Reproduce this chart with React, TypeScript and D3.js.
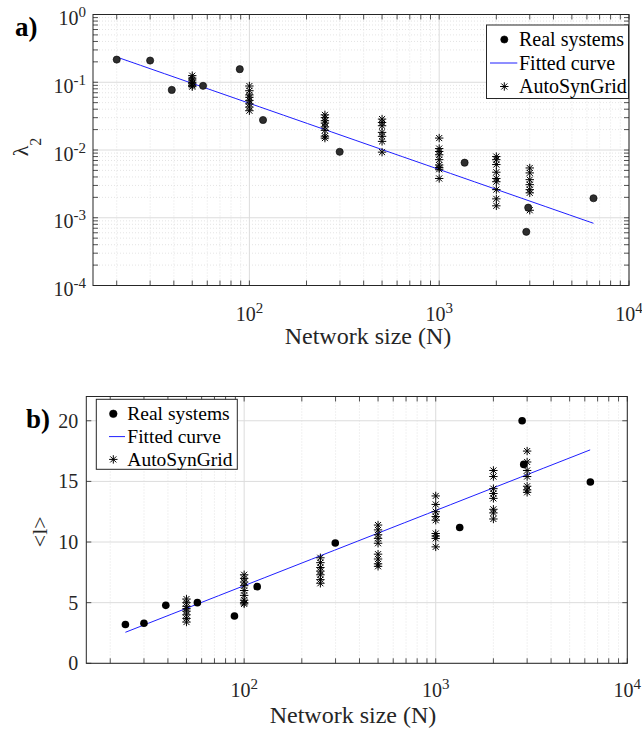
import React from 'react';
import * as d3 from 'd3';

// ---------- data ----------
// Real power systems: network size N, algebraic connectivity and mean path length
const realSizesA = [20, 30, 39, 57, 89, 118, 299, 1361, 2945, 2877, 6500];
const realLambda2 = [0.216, 0.209, 0.077, 0.0885, 0.156, 0.0277, 0.0094, 0.0065, 0.00141, 0.00062, 0.00194];

const realSizesB = [24, 30, 39, 57, 89, 117, 299, 1334, 2825, 2880, 6415];
const realPathLength = [3.2, 3.3, 4.78, 5.0, 3.9, 6.32, 9.92, 11.2, 20.0, 16.4, 14.95];

// Synthetic grids generated by AutoSynGrid, grouped by network size
const synSizes = [50, 100, 250, 500, 1000, 2000, 3000];
const synLambda2 = [
  [0.125, 0.115, 0.108, 0.1, 0.095, 0.09, 0.086],
  [0.088, 0.075, 0.065, 0.06, 0.054, 0.048, 0.043, 0.038],
  [0.033, 0.03, 0.027, 0.025, 0.022, 0.0195, 0.016, 0.015],
  [0.0286, 0.0255, 0.0228, 0.0182, 0.0159, 0.0134, 0.0093],
  [0.015, 0.0105, 0.0095, 0.0085, 0.0072, 0.006, 0.0055, 0.0052, 0.0038],
  [0.008, 0.0072, 0.0061, 0.0047, 0.0038, 0.0034, 0.0026, 0.0019, 0.0015],
  [0.00543, 0.00459, 0.00365, 0.00308, 0.0026, 0.00233, 0.00129],
];
const synPathLength = [
  [5.3, 5.0, 4.7, 4.5, 4.3, 4.0, 3.7, 3.4],
  [7.3, 7.0, 6.7, 6.4, 6.0, 5.6, 5.2, 5.0, 4.9],
  [8.7, 8.3, 7.9, 7.6, 7.3, 6.9, 6.6],
  [11.4, 11.0, 10.6, 10.3, 9.9, 9.0, 8.6, 8.2, 8.0],
  [13.8, 13.1, 12.5, 12.1, 11.8, 10.7, 10.5, 10.3, 9.6],
  [15.9, 15.4, 14.4, 14.0, 13.6, 12.7, 12.4, 11.9],
  [17.5, 16.6, 15.9, 15.4, 14.6, 14.3, 14.1],
];

// Fitted models: lambda2 = a * N^b ;  <l> = c + d * log10(N)
const lambdaFit = { a: 4.4, b: -0.977, from: 20, to: 6500 };
const pathFit = { c: -6.0, d: 6.2, from: 24, to: 6400 };

const legendLabels = ['Real systems', 'Fitted curve', 'AutoSynGrid'];
const xAxisTitle = 'Network size (N)';

// ---------- styling ----------
const FONT = "'Liberation Serif', 'Times New Roman', 'DejaVu Serif', serif";
const INK = '#262626';
const GRID = '#dcdcdc';
const MINOR_GRID = '#d2d2d2';
const BLUE = '#1f1fff';
const TICK = 5;

function starPath(r: number) {
  const d = r * 0.72;
  return `M${-r},0L${r},0M0,${-r}L0,${r}M${-d},${-d}L${d},${d}M${-d},${d}L${d},${-d}`;
}

function logMinor(lo: number, hi: number) {
  const out: number[] = [];
  for (let e = Math.floor(Math.log10(lo)); e <= Math.ceil(Math.log10(hi)); e++) {
    for (let k = 2; k <= 9; k++) {
      const v = k * Math.pow(10, e);
      if (v > lo && v < hi) out.push(v);
    }
  }
  return out;
}

function pow10Label(exp: number) {
  return (
    <>
      10
      <tspan fontSize={15} dy={-8}>
        {exp}
      </tspan>
    </>
  );
}

const txt = { fontFamily: FONT };

function Legend({ x, y, w, h, rowGap, fontSize, markerX, lineX0, lineX1, textX, dotR, dotFill }: any) {
  const rows = [y + 14.5, y + 14.5 + rowGap, y + 14.5 + 2 * rowGap];
  return (
    <g>
      <rect x={x} y={y} width={w} height={h} fill="#fff" stroke={INK} strokeWidth={1} />
      <circle cx={markerX} cy={rows[0]} r={dotR} fill={dotFill} stroke="#000" strokeWidth={0.6} />
      <line x1={lineX0} x2={lineX1} y1={rows[1]} y2={rows[1]} stroke={BLUE} strokeWidth={1} />
      <path d={starPath(4.2)} transform={`translate(${markerX},${rows[2]})`} stroke="#000" strokeWidth={1} fill="none" />
      {legendLabels.map((t, i) => (
        <text key={t} x={textX} y={rows[i] + fontSize * 0.33} fontSize={fontSize} fill="#000" style={txt}>
          {t}
        </text>
      ))}
    </g>
  );
}

export default function App() {
  // ----- panel a: log-log -----
  const xA = d3.scaleLog().domain([15, 1e4]).range([93, 629]);
  const yA = d3.scaleLog().domain([1e-4, 1]).range([285.5, 14.5]);
  const [aL, aR] = xA.range();
  const [aB, aT] = yA.range();

  // ----- panel b: semi-log -----
  const xB = d3.scaleLog().domain([15, 1e4]).range([86.3, 627.3]);
  const yB = d3.scaleLinear().domain([0, 22]).range([663.3, 396.5]);
  const [bL, bR] = xB.range();
  const [bB, bT] = yB.range();

  const xMajor = [100, 1000, 10000];
  const xMinor = logMinor(15, 1e4);
  const yAMajor = [1e-4, 1e-3, 1e-2, 1e-1, 1];
  const yAMinor = logMinor(1e-4, 1);
  const yBMajor = [0, 5, 10, 15, 20];

  const fitPtsA = d3.range(0, 21).map((i) => {
    const lg = Math.log10(lambdaFit.from) + (i / 20) * (Math.log10(lambdaFit.to) - Math.log10(lambdaFit.from));
    const n = Math.pow(10, lg);
    return [n, lambdaFit.a * Math.pow(n, lambdaFit.b)] as [number, number];
  });
  const fitPtsB = d3.range(0, 21).map((i) => {
    const lg = Math.log10(pathFit.from) + (i / 20) * (Math.log10(pathFit.to) - Math.log10(pathFit.from));
    const n = Math.pow(10, lg);
    return [n, pathFit.c + pathFit.d * Math.log10(n)] as [number, number];
  });
  const lineA = d3.line<[number, number]>().x((d) => xA(d[0])).y((d) => yA(d[1]));
  const lineB = d3.line<[number, number]>().x((d) => xB(d[0])).y((d) => yB(d[1]));

  const star = starPath(4.2);

  return (
    <svg
      width={642}
      height={734}
      style={{ position: 'absolute', left: 0, top: 0, background: '#fff', fontFamily: FONT }}
    >
      <rect width={642} height={734} fill="#fff" />

      {/* ================= panel a ================= */}
      <g>
        {/* minor grid */}
        {xMinor.map((v) => (
          <line key={'axm' + v} x1={xA(v)} x2={xA(v)} y1={aT} y2={aB} stroke={MINOR_GRID} strokeWidth={0.6} strokeDasharray="1 2" />
        ))}
        {yAMinor.map((v) => (
          <line key={'aym' + v} x1={aL} x2={aR} y1={yA(v)} y2={yA(v)} stroke={MINOR_GRID} strokeWidth={0.6} strokeDasharray="1 2" />
        ))}
        {/* major grid */}
        {xMajor.map((v) => (
          <line key={'axg' + v} x1={xA(v)} x2={xA(v)} y1={aT} y2={aB} stroke={GRID} strokeWidth={1} />
        ))}
        {yAMajor.map((v) => (
          <line key={'ayg' + v} x1={aL} x2={aR} y1={yA(v)} y2={yA(v)} stroke={GRID} strokeWidth={1} />
        ))}

        {/* ticks on all four sides */}
        {[...xMajor, ...xMinor].map((v) => (
          <g key={'axt' + v} stroke={INK} strokeWidth={0.8}>
            <line x1={xA(v)} x2={xA(v)} y1={aB} y2={aB - TICK} />
            <line x1={xA(v)} x2={xA(v)} y1={aT} y2={aT + TICK} />
          </g>
        ))}
        {[...yAMajor, ...yAMinor].map((v) => (
          <g key={'ayt' + v} stroke={INK} strokeWidth={0.8}>
            <line x1={aL} x2={aL + TICK} y1={yA(v)} y2={yA(v)} />
            <line x1={aR} x2={aR - TICK} y1={yA(v)} y2={yA(v)} />
          </g>
        ))}

        {/* data */}
        <path d={lineA(fitPtsA) || ''} fill="none" stroke={BLUE} strokeWidth={1} />
        {synSizes.map((n, i) =>
          synLambda2[i].map((v, j) => (
            <path key={`as${i}-${j}`} d={star} transform={`translate(${xA(n)},${yA(v)})`} stroke="#000" strokeWidth={1} fill="none" />
          ))
        )}
        {realSizesA.map((n, i) => (
          <circle key={'ar' + i} cx={xA(n)} cy={yA(realLambda2[i])} r={3.6} fill="#2e2e2e" stroke="#000" strokeWidth={0.6} />
        ))}

        {/* frame */}
        <rect x={aL} y={aT} width={aR - aL} height={aB - aT} fill="none" stroke={INK} strokeWidth={1} />

        {/* tick labels */}
        {yAMajor.map((v) => (
          <text key={'ayl' + v} x={aL - 7} y={yA(v) + 10.5} fontSize={20} textAnchor="end" fill={INK} style={txt}>
            {pow10Label(Math.round(Math.log10(v)))}
          </text>
        ))}
        {xMajor.map((v) => (
          <text key={'axl' + v} x={xA(v)} y={aB + 35} fontSize={20} textAnchor="middle" fill={INK} style={txt}>
            {pow10Label(Math.round(Math.log10(v)))}
          </text>
        ))}

        {/* axis titles */}
        <text x={368} y={344} fontSize={24} textAnchor="middle" fill={INK} style={txt}>
          {xAxisTitle}
        </text>
        <text transform="translate(28,147) rotate(-90)" fontSize={22} textAnchor="middle" fill={INK} style={txt}>
          λ<tspan fontSize={16} dy={13}>2</tspan>
        </text>
        <text x={15} y={36} fontSize={27} fontWeight="bold" fill="#000" style={txt}>
          a)
        </text>

        <Legend
          x={486.5}
          y={25}
          w={142}
          h={73.5}
          rowGap={23.5}
          fontSize={20}
          markerX={504.3}
          lineX0={490}
          lineX1={517.3}
          textX={519}
          dotR={3.6}
          dotFill="#000"
        />
      </g>

      {/* ================= panel b ================= */}
      <g>
        {xMinor.map((v) => (
          <line key={'bxm' + v} x1={xB(v)} x2={xB(v)} y1={bT} y2={bB} stroke={MINOR_GRID} strokeWidth={0.6} strokeDasharray="1 2" />
        ))}
        {xMajor.map((v) => (
          <line key={'bxg' + v} x1={xB(v)} x2={xB(v)} y1={bT} y2={bB} stroke={GRID} strokeWidth={1} />
        ))}
        {yBMajor.map((v) => (
          <line key={'byg' + v} x1={bL} x2={bR} y1={yB(v)} y2={yB(v)} stroke={GRID} strokeWidth={1} />
        ))}

        {[...xMajor, ...xMinor].map((v) => (
          <g key={'bxt' + v} stroke={INK} strokeWidth={0.8}>
            <line x1={xB(v)} x2={xB(v)} y1={bB} y2={bB - TICK} />
            <line x1={xB(v)} x2={xB(v)} y1={bT} y2={bT + TICK} />
          </g>
        ))}
        {yBMajor.map((v) => (
          <g key={'byt' + v} stroke={INK} strokeWidth={0.8}>
            <line x1={bL} x2={bL + TICK} y1={yB(v)} y2={yB(v)} />
            <line x1={bR} x2={bR - TICK} y1={yB(v)} y2={yB(v)} />
          </g>
        ))}

        <path d={lineB(fitPtsB) || ''} fill="none" stroke={BLUE} strokeWidth={1} />
        {synSizes.map((n, i) =>
          synPathLength[i].map((v, j) => (
            <path key={`bs${i}-${j}`} d={star} transform={`translate(${xB(n)},${yB(v)})`} stroke="#000" strokeWidth={1} fill="none" />
          ))
        )}
        {realSizesB.map((n, i) => (
          <circle key={'br' + i} cx={xB(n)} cy={yB(realPathLength[i])} r={3.8} fill="#000" />
        ))}

        <rect x={bL} y={bT} width={bR - bL} height={bB - bT} fill="none" stroke={INK} strokeWidth={1} />

        {yBMajor.map((v) => (
          <text key={'byl' + v} x={bL - 8} y={yB(v) + 7} fontSize={20} textAnchor="end" fill={INK} style={txt}>
            {v}
          </text>
        ))}
        {xMajor.map((v) => (
          <text key={'bxl' + v} x={xB(v)} y={bB + 34} fontSize={20} textAnchor="middle" fill={INK} style={txt}>
            {pow10Label(Math.round(Math.log10(v)))}
          </text>
        ))}

        <text x={353} y={722.5} fontSize={24} textAnchor="middle" fill={INK} style={txt}>
          {xAxisTitle}
        </text>
        <text transform="translate(47,531.7) rotate(-90)" fontSize={22} textAnchor="middle" fill={INK} style={txt}>
          {'<l>'}
        </text>
        <text x={26} y={428} fontSize={27} fontWeight="bold" fill="#000" style={txt}>
          b)
        </text>

        <Legend
          x={96.3}
          y={399.3}
          w={141}
          h={70}
          rowGap={22.8}
          fontSize={19.5}
          markerX={113.3}
          lineX0={109}
          lineX1={125}
          textX={127.3}
          dotR={3.8}
          dotFill="#000"
        />
      </g>
    </svg>
  );
}
